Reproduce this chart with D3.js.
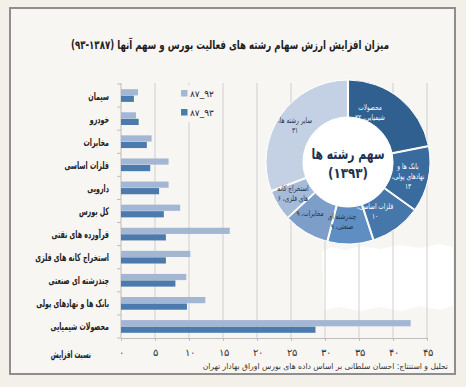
<!DOCTYPE html>
<html>
<head>
<meta charset="utf-8">
<script src="https://cdn.jsdelivr.net/npm/d3@7/dist/d3.min.js"></script>
<style>
  body { margin: 0; background: #f3efe9; }
  svg { display: block; font-family: "DejaVu Sans", sans-serif; }
</style>
</head>
<body>
<svg id="chart" width="466" height="387"></svg>
<script>
// categories, top to bottom
var categories = ["سیمان", "خودرو", "مخابرات", "فلزات اساسی", "دارویی", "کل بورس",
  "فرآورده های نفتی", "استخراج کانه های فلزی", "چندرشته ای صنعتی", "بانک ها و نهادهای پولی", "محصولات شیمیایی"];
// growth ratio 87-92 (light) and 87-93 (dark)
var growth92 = [2.5, 2.2, 4.5, 7.0, 7.0, 8.7, 16.0, 10.2, 9.6, 12.4, 42.6];
var growth93 = [1.9, 2.6, 3.8, 4.3, 5.6, 6.3, 6.6, 6.6, 8.0, 9.7, 28.6];
var seriesNames = ["۸۷_۹۲", "۸۷_۹۳"];
var xTicks = [0, 5, 10, 15, 20, 25, 30, 35, 40, 45];

// donut: share of sectors in 1393
var shareNames = ["محصولات شیمیایی", "بانک ها و نهادهای پولی", "فلزات اساسی", "چندرشته ای صنعتی", "مخابرات", "استخراج کانه های فلزی", "سایر رشته ها"];
var shareValues = [22, 13, 10, 9, 9, 6, 31];

var faDigits = "۰۱۲۳۴۵۶۷۸۹";
function fa(n) { return String(n).replace(/\d/g, function(d) { return faDigits[d]; }); }

// DejaVu's arabic is much wider than the original font, squeeze it horizontally
function condense(sel, k) {
  sel.each(function() {
    var w = this.getComputedTextLength();
    d3.select(this).attr("textLength", w * k).attr("lengthAdjust", "spacingAndGlyphs");
  });
}

var svg = d3.select("#chart");
var lightBlue = "#a3b6d3", darkBlue = "#4d7aad";

// frame
svg.append("rect").attr("x", 10).attr("y", 8).attr("width", 445).attr("height", 366)
  .attr("fill", "#f8f6f2").attr("stroke", "#8e8e8e").attr("stroke-width", 2);

var title = svg.append("text").attr("x", 230).attr("y", 49).attr("text-anchor", "middle")
  .attr("direction", "rtl").style("font-size", "12px").style("font-weight", "bold").attr("fill", "#1e1e1e")
  .text("میزان افزایش ارزش سهام رشته های فعالیت بورس و سهم آنها (۱۳۸۷-۹۳)");
condense(title, 0.72);

var x = d3.scaleLinear().domain([0, 45]).range([121, 427]);
var y = d3.scaleBand().domain(categories).range([84, 338]).paddingInner(0.45).paddingOuter(0.225);
var ySub = d3.scaleBand().domain([0, 1]).range([0, y.bandwidth()]).paddingInner(0.05);

// white patch at lower right
svg.append("path")
  .attr("d", "M322,252 L332,247 L345,250 L360,246 L380,249 L400,245 L420,248 L440,244 L453,247 L453,306 L440,310 L420,306 L400,311 L380,307 L360,311 L340,307 L324,310 Z")
  .attr("fill", "#ffffff");

// grid
svg.append("g").selectAll("line").data(xTicks.slice(1)).enter().append("line")
  .attr("x1", d => x(d)).attr("x2", d => x(d)).attr("y1", 83).attr("y2", 338)
  .attr("stroke", "#cfcfcf").attr("stroke-width", 1);

// x axis
var xAxis = svg.append("g").attr("transform", "translate(0,338)")
  .call(d3.axisBottom(x).tickValues(xTicks).tickSize(3).tickPadding(8).tickFormat(fa));
xAxis.select(".domain").attr("stroke", "#bdbdbd");
xAxis.selectAll(".tick line").attr("stroke", "#bdbdbd");
xAxis.selectAll("text").style("font-size", "9.5px").attr("fill", "#333");

// left axis line + ticks
svg.append("line").attr("x1", 121).attr("x2", 121).attr("y1", 83).attr("y2", 338).attr("stroke", "#bdbdbd");
var bounds = categories.map(c => y(c) - y.step() * y.paddingInner() / 2).concat([338]);
svg.append("g").selectAll("line").data(bounds).enter().append("line")
  .attr("x1", 117).attr("x2", 121).attr("y1", d => d).attr("y2", d => d).attr("stroke", "#bdbdbd");

// bars
var bars = svg.append("g");
[growth92, growth93].forEach(function(vals, s) {
  bars.selectAll(".s" + s).data(vals).enter().append("rect")
    .attr("class", "s" + s)
    .attr("x", x(0))
    .attr("y", (d, i) => y(categories[i]) + ySub(s))
    .attr("width", d => x(d) - x(0))
    .attr("height", ySub.bandwidth())
    .attr("fill", s === 0 ? lightBlue : darkBlue);
});

// category labels
var catLabels = svg.append("g").selectAll("text").data(categories).enter().append("text")
  .attr("x", 109).attr("y", d => y(d) + y.bandwidth() / 2 + 4)
  .attr("text-anchor", "end").style("font-size", "10.5px").style("font-weight", "bold").attr("fill", "#222")
  .text(d => d);
condense(catLabels, 0.6);

var axisTitle = svg.append("text").attr("x", 91).attr("y", 358).attr("text-anchor", "end")
  .style("font-size", "10.5px").style("font-weight", "bold").attr("fill", "#222").text("نسبت افزایش");
condense(axisTitle, 0.55);

// legend
svg.append("rect").attr("x", 178).attr("y", 85).attr("width", 40).attr("height", 37).attr("fill", "#f8f6f2");
seriesNames.forEach(function(name, i) {
  svg.append("rect").attr("x", 181).attr("y", 90 + i * 19).attr("width", 6.5).attr("height", 6.5)
    .attr("fill", i === 0 ? lightBlue : darkBlue);
  svg.append("text").attr("x", 190).attr("y", 97 + i * 19).style("font-size", "9px").attr("fill", "#222")
    .text(name);
});

// donut
var cx = 348, cy = 162;
var pie = d3.pie().sort(null).value(d => d).padAngle(0.012);
var arc = d3.arc().innerRadius(45).outerRadius(82);
var sliceColors = ["#30608f", "#3a6b9f", "#4677ab", "#5f8ec2", "#7d9ec8", "#a6bbd8", "#c4d1e5"];
var donut = svg.append("g").attr("transform", "translate(" + cx + "," + cy + ")");
donut.append("circle").attr("r", 45).attr("fill", "#ffffff");
donut.selectAll("path").data(pie(shareValues)).enter().append("path")
  .attr("d", arc).attr("fill", (d, i) => sliceColors[i]).attr("stroke", "#ffffff").attr("stroke-width", 1);

var c1 = donut.append("text").attr("y", -3).attr("text-anchor", "middle").attr("direction", "rtl")
  .style("font-size", "15px").style("font-weight", "bold").attr("fill", "#1d3150").text("سهم رشته ها");
condense(c1, 0.72);
var c2 = donut.append("text").attr("y", 16).attr("text-anchor", "middle").attr("direction", "rtl")
  .style("font-size", "14px").style("font-weight", "bold").attr("fill", "#1d3150").text("(" + fa(1393) + ")");
condense(c2, 0.85);

// slice labels, split into lines
var sliceLines = [
  ["محصولات", "شیمیایی، " + fa(22)],
  ["بانک ها و", "نهادهای پولی،", fa(13)],
  ["فلزات اساسی،", fa(10)],
  ["چندرشته ای", "صنعتی، " + fa(9)],
  ["مخابرات، " + fa(9)],
  ["استخراج کانه", "های فلزی، " + fa(6)],
  ["سایر رشته ها،", fa(31)]
];
var labelPos = [[22, -50], [60, 14], [27, 49], [-6, 59], [-38, 51], [-55, 31], [-53, -37]];
var labelColor = ["#ffffff", "#ffffff", "#ffffff", "#1d3150", "#1d3150", "#1d3150", "#1d3150"];
sliceLines.forEach(function(lines, i) {
  lines.forEach(function(l, j) {
    var t = donut.append("text").attr("text-anchor", "middle").attr("direction", "rtl")
      .attr("x", labelPos[i][0]).attr("y", labelPos[i][1] + j * 10 - (lines.length - 1) * 5 + 3)
      .style("font-size", "8px").attr("fill", labelColor[i]).text(l);
    condense(t, 0.72);
  });
});

var foot = svg.append("text").attr("x", 448).attr("y", 369).attr("text-anchor", "end")
  .style("font-size", "8px").attr("fill", "#333")
  .text("تحلیل و استنتاج: احسان سلطانی بر اساس داده های بورس اوراق بهادار تهران");
condense(foot, 0.95);
</script>
</body>
</html>
